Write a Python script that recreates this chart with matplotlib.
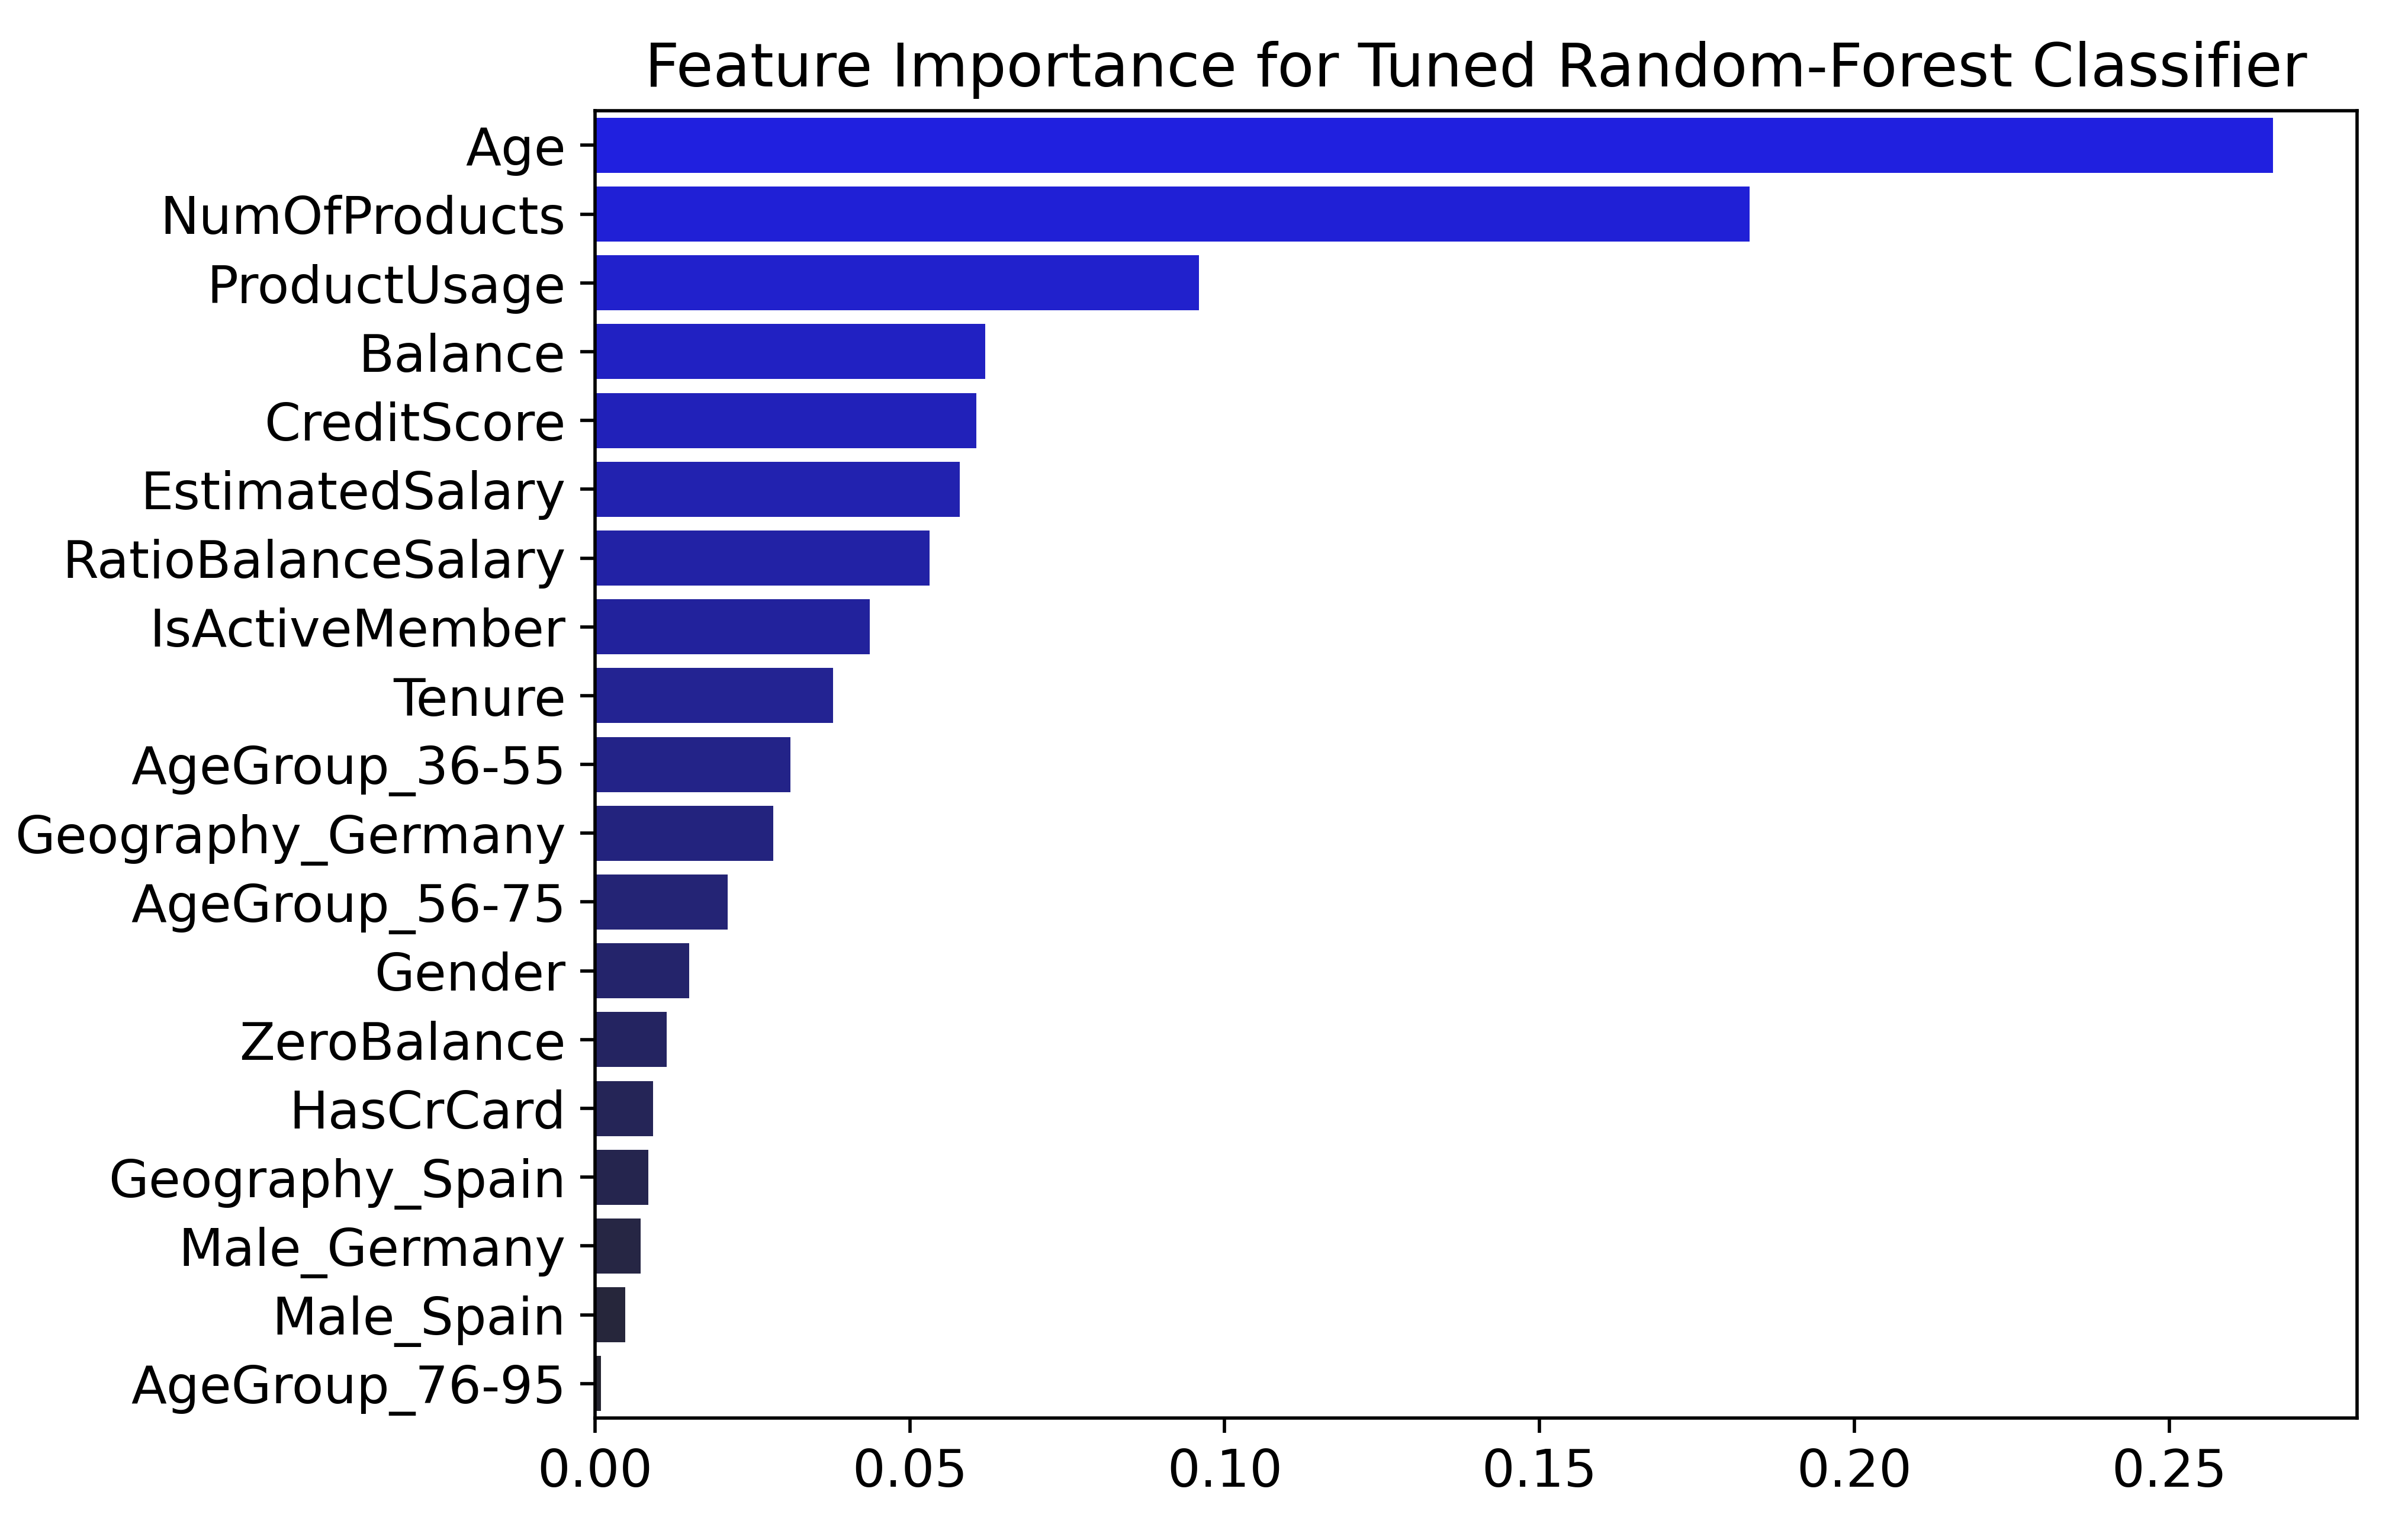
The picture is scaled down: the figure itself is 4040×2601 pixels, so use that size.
import matplotlib
matplotlib.use("Agg")
import matplotlib.pyplot as plt
import seaborn as sns

features = ["Age", "NumOfProducts", "ProductUsage", "Balance", "CreditScore",
            "EstimatedSalary", "RatioBalanceSalary", "IsActiveMember", "Tenure",
            "AgeGroup_36-55", "Geography_Germany", "AgeGroup_56-75", "Gender",
            "ZeroBalance", "HasCrCard", "Geography_Spain", "Male_Germany",
            "Male_Spain", "AgeGroup_76-95"]
importance = [0.2665, 0.1834, 0.0959, 0.0620, 0.0606, 0.0579, 0.0531, 0.0436,
              0.0378, 0.0310, 0.0283, 0.0211, 0.0150, 0.0114, 0.0092, 0.0085,
              0.0073, 0.0048, 0.0010]

fig = plt.figure(figsize=(8, 5.152), dpi=505)
ax = fig.add_axes([390/1568, 1 - 930/1010, (1545-390)/1568, (930-73)/1010])
sns.barplot(x=importance, y=features, hue=features, legend=False,
            palette="dark:blue_r", ax=ax)
ax.set_xlabel("")
ax.set_ylabel("")
ax.tick_params(labelsize=12.5)
ax.set_title("Feature Importance for Tuned Random-Forest Classifier", fontsize=14.5)
fig.savefig("out.png", dpi=505)
